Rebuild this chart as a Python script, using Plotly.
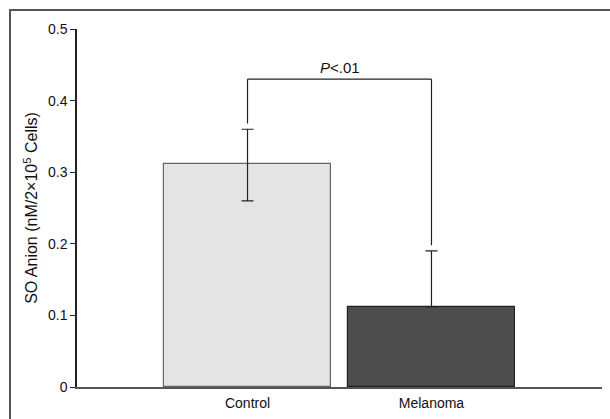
import plotly.graph_objects as go

categories = ["Control", "Melanoma"]
values = [0.312, 0.112]
err_plus = [0.048, 0.078]
err_minus = [0.052, 0.0]
bar_colors = ["#e5e5e5", "#4d4d4d"]
bar_lines = ["#666666", "#222222"]
y_tickvals = [0, 0.1, 0.2, 0.3, 0.4, 0.5]
y_ticktext = ["0", "0.1", "0.2", "0.3", "0.4", "0.5"]
bracket_y = 0.43
p_label = "<i>P</i><.01"

xpos = list(range(len(categories)))
FONT = "Liberation Sans, Arial, Helvetica, sans-serif"

fig = go.Figure()
fig.add_trace(go.Bar(
    x=xpos, y=values, width=0.908,
    marker=dict(color=bar_colors, line=dict(color=bar_lines, width=1.2)),
    error_y=dict(type="data", array=err_plus, arrayminus=err_minus, symmetric=False,
                 color="#222222", thickness=1.2, width=6),
    showlegend=False,
))

# significance bracket
gap = 0.008
for i in range(2):
    fig.add_shape(type="line", xref="x", yref="y",
                  x0=xpos[i], x1=xpos[i],
                  y0=values[i] + err_plus[i] + gap, y1=bracket_y,
                  line=dict(color="#222222", width=1.2))
fig.add_shape(type="line", xref="x", yref="y", x0=xpos[0], x1=xpos[1],
              y0=bracket_y, y1=bracket_y, line=dict(color="#222222", width=1.2))
fig.add_annotation(x=(xpos[0] + xpos[1]) / 2, y=bracket_y, text=p_label, showarrow=False,
                   yanchor="bottom", yshift=1, font=dict(family=FONT, size=15, color="#111"))

# outer frame
fig.add_shape(type="rect", xref="paper", yref="paper", x0=-0.1276, x1=1.5, y0=-0.5, y1=1.053,
              line=dict(color="#555555", width=2), layer="below")

fig.update_layout(
    width=610, height=419,
    margin=dict(l=77, r=8, t=29, b=32),
    paper_bgcolor="white", plot_bgcolor="white",
    font=dict(family=FONT, size=14, color="#111"),
    bargap=0,
    xaxis=dict(range=[-0.927, 1.927], tickvals=xpos, ticktext=categories,
               showline=True, linecolor="#555555", linewidth=2, ticks="outside",
               ticklen=2, tickcolor="rgba(0,0,0,0)",
               showgrid=False, zeroline=False, tickfont=dict(size=14), automargin=False),
    yaxis=dict(range=[0, 0.5], tickvals=y_tickvals, ticktext=y_ticktext,
               showline=True, linecolor="#222222", linewidth=1.5, ticks="outside",
               ticklen=5, tickwidth=1.2, tickcolor="#222222",
               showgrid=False, zeroline=False, tickfont=dict(size=14), automargin=False,
               title=dict(text="SO Anion (nM/2×10<sup>5</sup> Cells)", font=dict(size=16), standoff=6)),
)

fig.write_html("out.html", config={"displayModeBar": False},
               post_script="document.body.style.margin='0';")
